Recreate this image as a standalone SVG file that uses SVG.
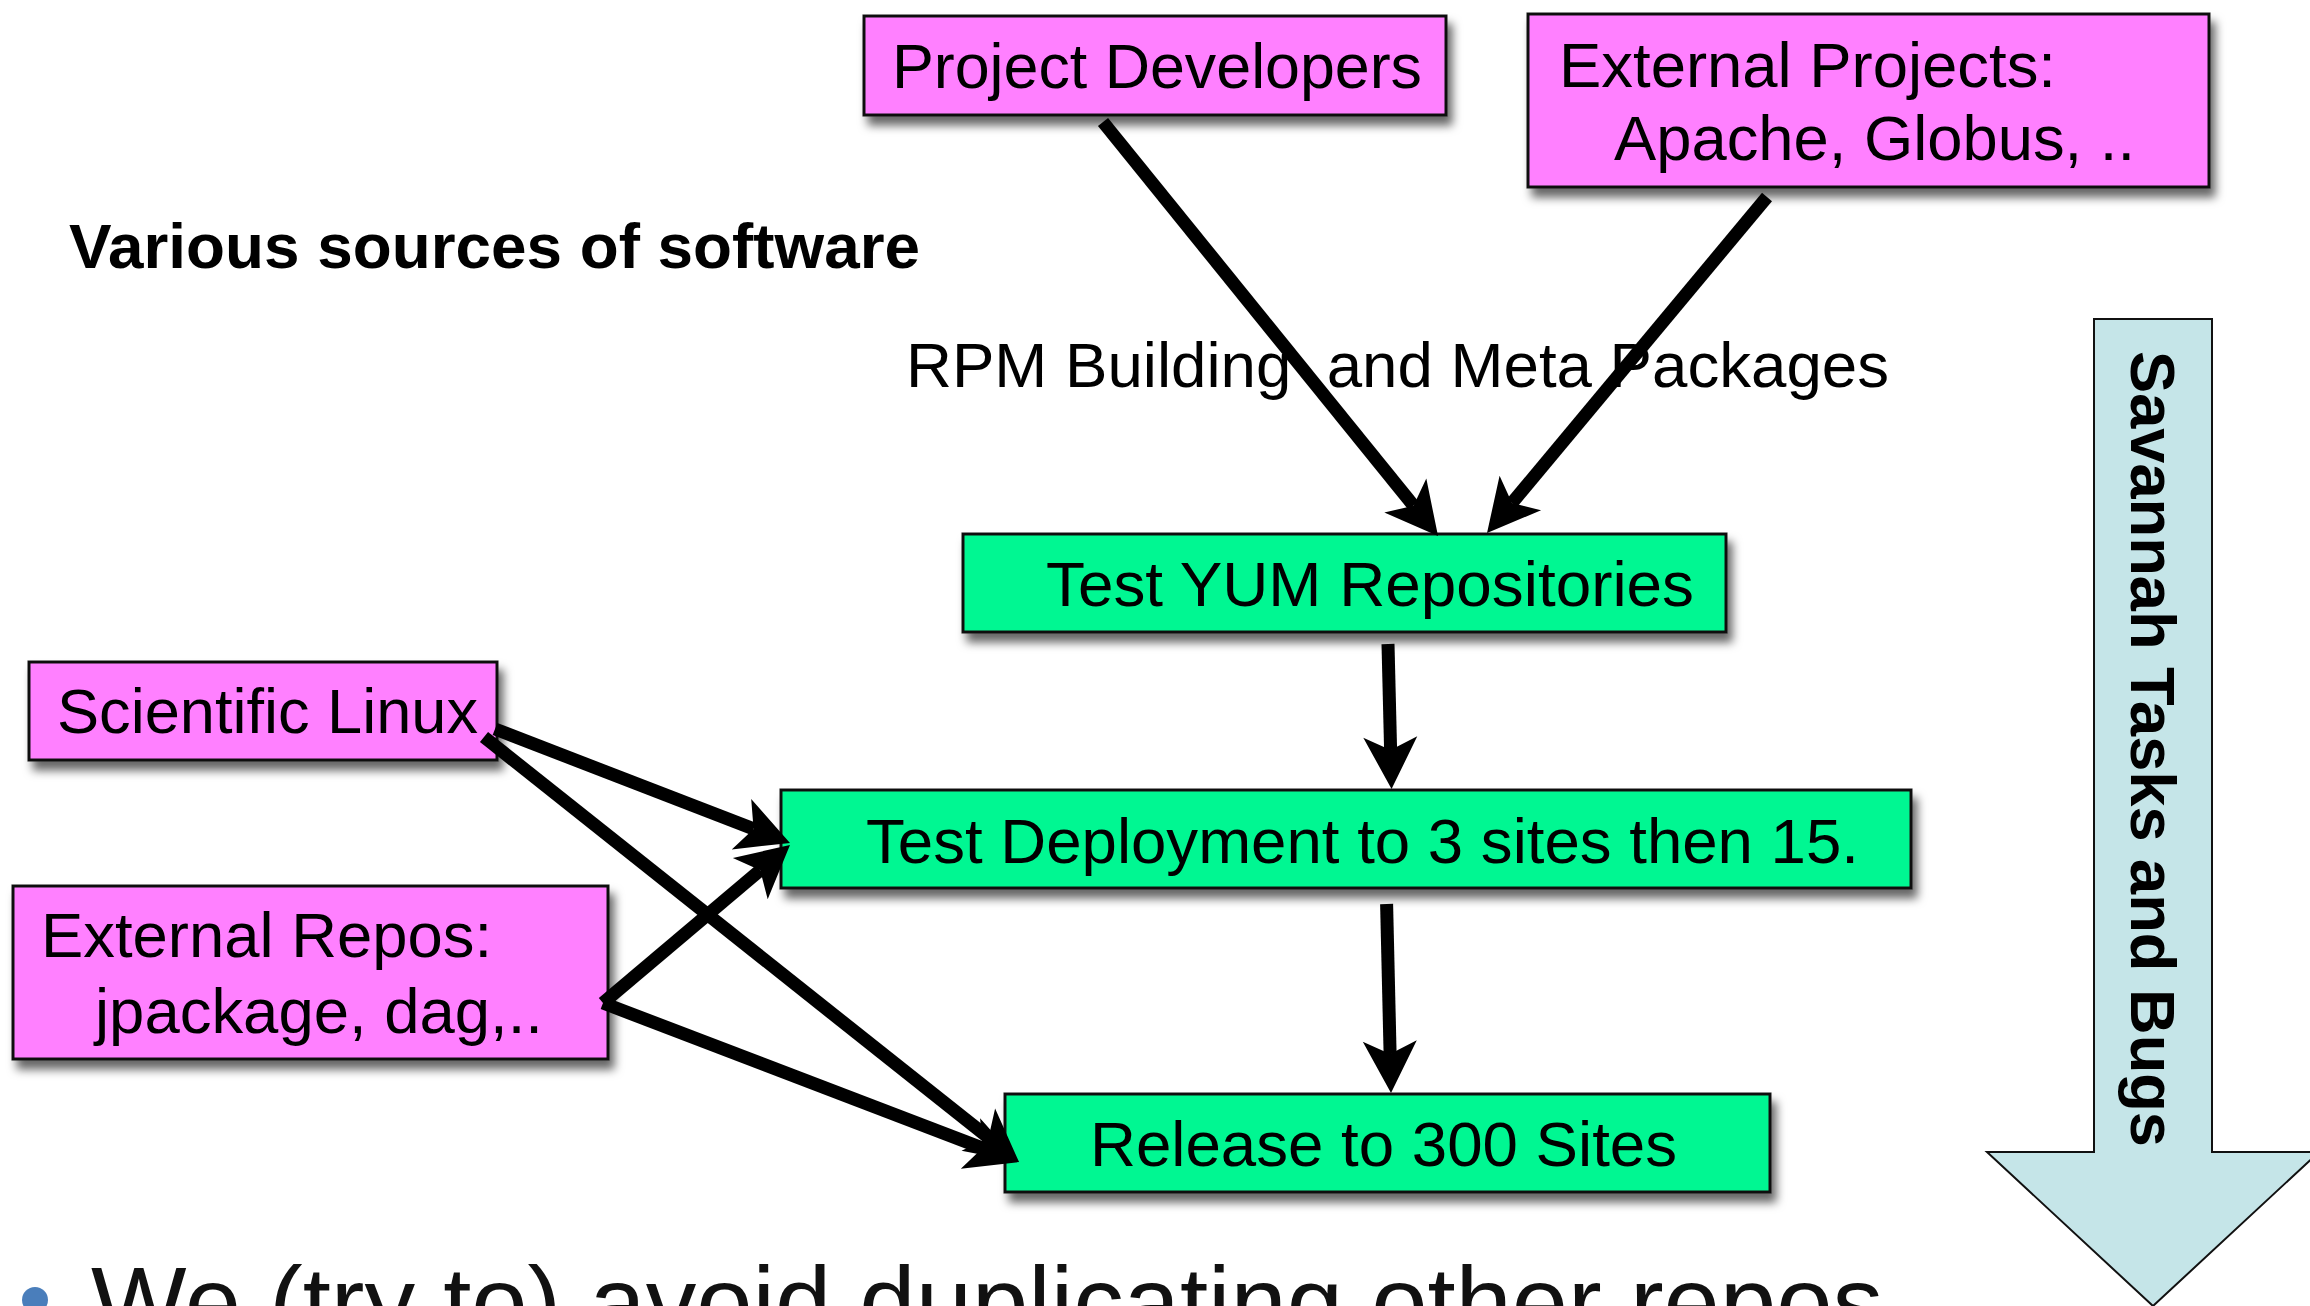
<svg xmlns="http://www.w3.org/2000/svg" width="2310" height="1306" viewBox="0 0 2310 1306">
<style>
.box{stroke:#111;stroke-width:3}
.pink{fill:#FF80FF}
.green{fill:#00F792}
.lbl{font-family:"Liberation Sans",Arial,Helvetica,sans-serif;font-size:63px;fill:#000}
.bold{font-weight:bold}
.conn{stroke:#000;stroke-width:13;fill:none;stroke-linecap:butt;marker-end:url(#head)}
</style>
<defs>
<filter id="shadow" x="-10%" y="-20%" width="130%" height="160%">
<feDropShadow dx="5" dy="9" stdDeviation="5" flood-color="#000" flood-opacity="0.6"/>
</filter>
<marker id="head" markerUnits="userSpaceOnUse" viewBox="-14 -28 54 56" refX="0" refY="0" markerWidth="54" markerHeight="56" orient="auto" overflow="visible">
<path d="M39,0 L-13,-27 L0,0 L-13,27 Z" fill="#000"/>
</marker>
</defs>
<rect width="2310" height="1306" fill="#fff"/>

<text class="lbl bold" x="69" y="268" textLength="851" lengthAdjust="spacingAndGlyphs">Various sources of software</text>
<text class="lbl" x="906" y="387" textLength="983" lengthAdjust="spacingAndGlyphs" xml:space="preserve">RPM Building  and Meta Packages</text>

<g id="savannah">
<path d="M2094,319 L2212,319 L2212,1152 L2319,1152 L2153,1306 L1987,1152 L2094,1152 Z" fill="#C5E5E8" stroke="#111" stroke-width="2"/>
<text class="lbl bold" transform="translate(2131,351) rotate(90)" textLength="796" lengthAdjust="spacingAndGlyphs">Savannah Tasks and Bugs</text>
</g>

<g id="project-developers">
<rect class="box pink" x="864" y="16" width="582" height="99" filter="url(#shadow)"/>
<text class="lbl" x="892" y="88" textLength="530" lengthAdjust="spacingAndGlyphs">Project Developers</text>
</g>

<g id="external-projects">
<rect class="box pink" x="1528" y="14" width="681" height="173" filter="url(#shadow)"/>
<text class="lbl" x="1559" y="87" textLength="497" lengthAdjust="spacingAndGlyphs">External Projects:</text>
<text class="lbl" x="1614" y="160" textLength="521" lengthAdjust="spacingAndGlyphs">Apache, Globus, ..</text>
</g>

<g id="test-yum">
<rect class="box green" x="963" y="534" width="763" height="98" filter="url(#shadow)"/>
<text class="lbl" x="1046" y="606" textLength="648" lengthAdjust="spacingAndGlyphs">Test YUM Repositories</text>
</g>

<g id="test-deployment">
<rect class="box green" x="781" y="790" width="1130" height="98" filter="url(#shadow)"/>
<text class="lbl" x="866" y="863" textLength="993" lengthAdjust="spacingAndGlyphs">Test Deployment to 3 sites then 15.</text>
</g>

<g id="release">
<rect class="box green" x="1005" y="1094" width="765" height="98" filter="url(#shadow)"/>
<text class="lbl" x="1090" y="1166" textLength="587" lengthAdjust="spacingAndGlyphs">Release to 300 Sites</text>
</g>

<g id="scientific-linux">
<rect class="box pink" x="29" y="662" width="468" height="98" filter="url(#shadow)"/>
<text class="lbl" x="57" y="733" textLength="421" lengthAdjust="spacingAndGlyphs">Scientific Linux</text>
</g>

<g id="external-repos">
<rect class="box pink" x="13" y="886" width="595" height="173" filter="url(#shadow)"/>
<text class="lbl" x="41" y="957" textLength="451" lengthAdjust="spacingAndGlyphs">External Repos:</text>
<text class="lbl" x="95" y="1033" textLength="448" lengthAdjust="spacingAndGlyphs">jpackage, dag,..</text>
</g>

<g id="connectors">
<line class="conn" x1="1103" y1="122" x2="1413.5" y2="505.7"/>
<line class="conn" x1="1767" y1="197" x2="1512" y2="503"/>
<line class="conn" x1="1388" y1="644" x2="1390.6" y2="750"/>
<line class="conn" x1="1386.6" y1="904" x2="1390.1" y2="1054"/>
<line class="conn" x1="495" y1="729" x2="753.6" y2="828.9"/>
<line class="conn" x1="603" y1="1003" x2="760.2" y2="870.2"/>
<line class="conn" x1="484" y1="737" x2="988.5" y2="1137.7"/>
<line class="conn" x1="603" y1="1003" x2="982.6" y2="1148.1"/>
</g>

<g id="bullet">
<circle cx="35" cy="1300" r="13" fill="#4A7EBB"/>
<text x="91" y="1337" font-family="Liberation Sans, Arial, sans-serif" font-size="101" fill="#111" textLength="1792" lengthAdjust="spacingAndGlyphs">We (try to) avoid duplicating other repos</text>
</g>
</svg>
